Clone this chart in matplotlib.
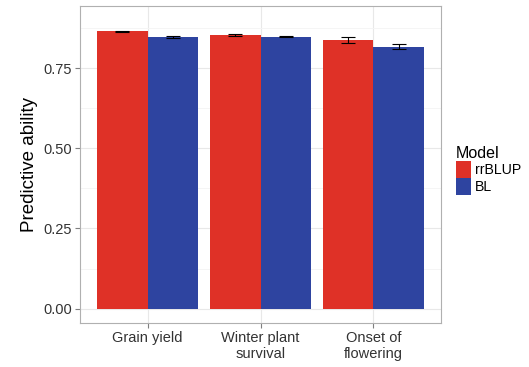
import numpy as np
import matplotlib.pyplot as plt
from matplotlib.patches import Patch

plt.rcParams['font.family'] = ['Liberation Sans', 'DejaVu Sans']

traits = ['Grain yield', 'Winter plant\nsurvival', 'Onset of\nflowering']
models = ['rrBLUP', 'BL']
rrblup = [0.866, 0.854, 0.839]
rrblup_err = [0.002, 0.002, 0.009]
bl = [0.848, 0.849, 0.818]
bl_err = [0.002, 0.002, 0.009]
colors = ['#DF3127', '#2E44A0']

fig = plt.figure(figsize=(5.29, 3.67), dpi=100)
ax = fig.add_axes([0.151, 0.120, 0.683, 0.864])

x = np.arange(1, len(traits) + 1)
w = 0.45
ax.bar(x - w / 2, rrblup, width=w, color=colors[0], zorder=2)
ax.bar(x + w / 2, bl, width=w, color=colors[1], zorder=2)
ax.errorbar(x - w / 2, rrblup, yerr=rrblup_err, fmt='none', ecolor='black',
            elinewidth=0.8, capsize=5, capthick=0.8, zorder=3)
ax.errorbar(x + w / 2, bl, yerr=bl_err, fmt='none', ecolor='black',
            elinewidth=0.8, capsize=5, capthick=0.8, zorder=3)

ax.set_xlim(0.4, 3.6)
ax.set_ylim(-0.045, 0.945)
ax.set_xticks(x)
ax.set_xticklabels(traits)
ax.set_yticks([0, 0.25, 0.5, 0.75])
ax.set_yticklabels(['0.00', '0.25', '0.50', '0.75'])
ax.set_yticks([0.125, 0.375, 0.625, 0.875], minor=True)
ax.grid(True, which='major', color='#e8e8e8', linewidth=0.8, zorder=0)
ax.grid(True, which='minor', axis='y', color='#f4f4f4', linewidth=0.6, zorder=0)
ax.tick_params(which='minor', length=0)
ax.tick_params(which='major', length=3.5, color='#7f7f7f', labelsize=10.5,
               labelcolor='#333333', pad=2)
for s in ax.spines.values():
    s.set_color('#b0b0b0')
    s.set_linewidth(0.8)
ax.set_axisbelow(True)
ax.set_ylabel('Predictive ability', fontsize=13.5, labelpad=4)

handles = [Patch(facecolor=c, edgecolor='none') for c in colors]
fig.legend(handles, models, title='Model', loc='upper left',
           bbox_to_anchor=(0.843, 0.63), frameon=False, fontsize=10.2,
           title_fontsize=11.5, handlelength=1.05, handleheight=1.4,
           handletextpad=0.3, labelspacing=0.05, borderpad=0.2)
leg = fig.legends[0]
leg._legend_box.align = 'left'

fig.savefig('out.png', dpi=100)
